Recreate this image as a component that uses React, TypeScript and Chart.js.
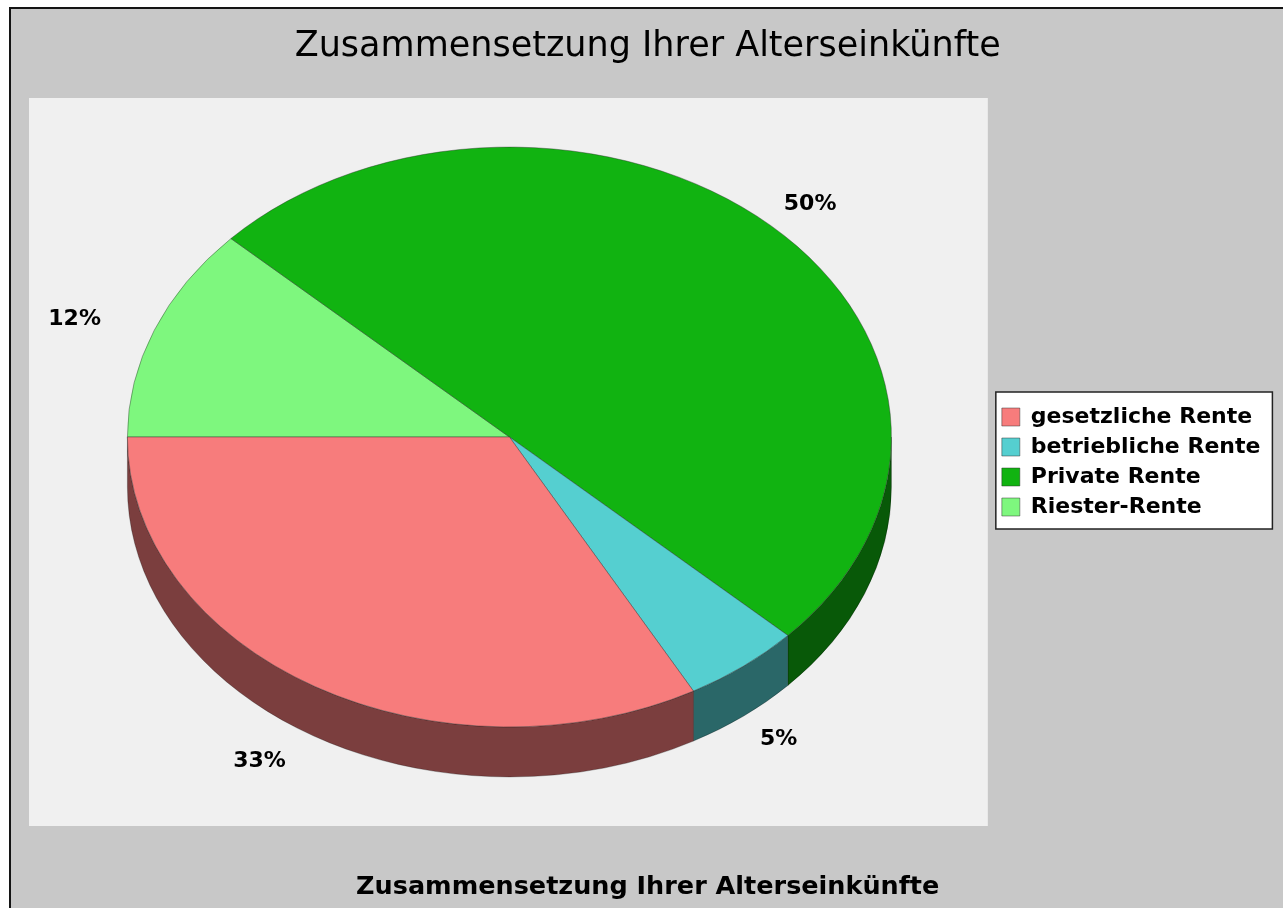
import { useEffect, useRef } from 'react';
import { Chart, registerables } from 'chart.js';

Chart.register(...registerables);

const TITLE = 'Zusammensetzung Ihrer Alterseinkünfte';
const categories = ['gesetzliche Rente', 'betriebliche Rente', 'Private Rente', 'Riester-Rente'];
const shares = [33, 5, 50, 12];
const topColors = ['#f77c7c', '#55cfd0', '#11b311', '#7ef77e'];
const sideColors = ['#7b3e3e', '#2a6768', '#085908', '#3f7b3f'];

const SQUASH = 0.759; // vertical / horizontal radius of the pie ellipse
const DEPTH = 50; // thickness of the 3D pie in px
const PIE_RADIUS = 382;
const FONT = '"DejaVu Sans", sans-serif';

export default function App() {
  const ref = useRef<HTMLCanvasElement>(null);

  useEffect(() => {
    document.body.style.margin = '0';
    const canvas = ref.current;
    if (!canvas) return;

    // slices are drawn clockwise starting at 9 o'clock: reverse the legend order
    const order = [3, 2, 1, 0];
    const labels = order.map((i) => categories[i]);
    const values = order.map((i) => shares[i]);
    const fills = order.map((i) => topColors[i]);
    const sides = order.map((i) => sideColors[i]);
    const total = values.reduce((s, v) => s + v, 0);

    const pie3d = {
      id: 'pie3d',
      beforeDraw(chart: any) {
        const { ctx, width, height, chartArea: a } = chart;
        ctx.save();
        ctx.fillStyle = '#ffffff';
        ctx.fillRect(0, 0, width, height);
        ctx.fillStyle = '#c8c8c8';
        ctx.fillRect(9, 7, width - 9, height - 7);
        ctx.fillStyle = '#141414';
        ctx.fillRect(9, 7, width - 9, 2);
        ctx.fillRect(9, 7, 2, height - 7);
        // plot background
        ctx.fillStyle = '#f0f0f0';
        ctx.fillRect(a.left + 4, a.top, a.right - a.left - 10, a.bottom - a.top);
        // legend frame
        const hb = chart.legend && chart.legend.legendHitBoxes;
        if (hb && hb.length) {
          const l = Math.min(...hb.map((h: any) => h.left)) - 6;
          const t = Math.min(...hb.map((h: any) => h.top)) - 14;
          const r = Math.max(...hb.map((h: any) => h.left + h.width)) + 12;
          const b = Math.max(...hb.map((h: any) => h.top + h.height)) + 11;
          ctx.fillStyle = '#ffffff';
          ctx.fillRect(l, t, r - l, b - t);
          ctx.strokeStyle = '#222222';
          ctx.lineWidth = 1.5;
          ctx.strokeRect(l, t, r - l, b - t);
        }
        ctx.restore();
      },
      beforeDatasetsDraw(chart: any) {
        const { ctx } = chart;
        const arcs = chart.getDatasetMeta(0).data;
        if (!arcs.length) return;
        const x = arcs[0].x;
        const y = arcs[0].y;
        const R = arcs[0].outerRadius;
        const topY = y - DEPTH / 2;
        ctx.save();
        // side walls (front half only)
        arcs.forEach((arc: any, i: number) => {
          const lo = Math.max(arc.startAngle, 0);
          const hi = Math.min(arc.endAngle, Math.PI);
          if (hi <= lo) return;
          ctx.beginPath();
          ctx.ellipse(x, topY, R, R * SQUASH, 0, lo, hi, false);
          ctx.ellipse(x, topY + DEPTH, R, R * SQUASH, 0, hi, lo, true);
          ctx.closePath();
          ctx.fillStyle = sides[i];
          ctx.fill();
          ctx.strokeStyle = 'rgba(0,0,0,0.25)';
          ctx.lineWidth = 1;
          ctx.stroke();
        });
        // squash the circular top face into an ellipse
        ctx.translate(x, topY);
        ctx.scale(1, SQUASH);
        ctx.translate(-x, -y);
      },
      afterDatasetsDraw(chart: any) {
        const { ctx } = chart;
        ctx.restore();
        const arcs = chart.getDatasetMeta(0).data;
        ctx.save();
        ctx.font = `bold 22px ${FONT}`;
        ctx.fillStyle = '#000000';
        ctx.textBaseline = 'middle';
        arcs.forEach((arc: any, i: number) => {
          const mid = (arc.startAngle + arc.endAngle) / 2;
          const R = arc.outerRadius;
          const c = Math.cos(mid);
          const s = Math.sin(mid);
          const baseY = arc.y - DEPTH / 2 + (s > 0 ? DEPTH : 0);
          const lx = arc.x + R * 1.15 * c;
          const ly = baseY + R * SQUASH * 1.1 * s;
          ctx.textAlign = c < 0 ? 'right' : 'center';
          ctx.fillText(`${Math.round((values[i] / total) * 100)}%`, lx, ly);
        });
        ctx.restore();
      },
    };

    const chart = new Chart(canvas, {
      type: 'pie',
      data: {
        labels,
        datasets: [
          {
            data: values,
            backgroundColor: fills,
            borderColor: 'rgba(40,40,40,0.45)',
            borderWidth: 1,
            radius: PIE_RADIUS,
            clip: false,
          } as any,
        ],
      },
      options: {
        responsive: false,
        animation: false,
        rotation: -90,
        layout: { padding: { top: 0, left: 25, right: 12.6, bottom: 0 } },
        plugins: {
          title: {
            display: true,
            text: TITLE,
            color: '#000000',
            font: { family: FONT, size: 35, weight: 'normal' },
            padding: { top: 26, bottom: 30 },
          },
          subtitle: {
            display: true,
            position: 'bottom',
            text: TITLE,
            color: '#000000',
            font: { family: FONT, size: 25.5, weight: 'bold' },
            padding: { top: 46.4, bottom: 5 },
          },
          legend: {
            position: 'right',
            fullSize: false,
            reverse: true,
            labels: {
              boxWidth: 18,
              boxHeight: 18,
              padding: 8,
              color: '#000000',
              font: { family: FONT, size: 22, weight: 'bold' },
            },
          },
          tooltip: { enabled: false },
        },
      } as any,
      plugins: [pie3d],
    });

    return () => chart.destroy();
  }, []);

  return (
    <canvas
      ref={ref}
      width={1283}
      height={908}
      style={{ display: 'block', width: '1283px', height: '908px' }}
    />
  );
}
